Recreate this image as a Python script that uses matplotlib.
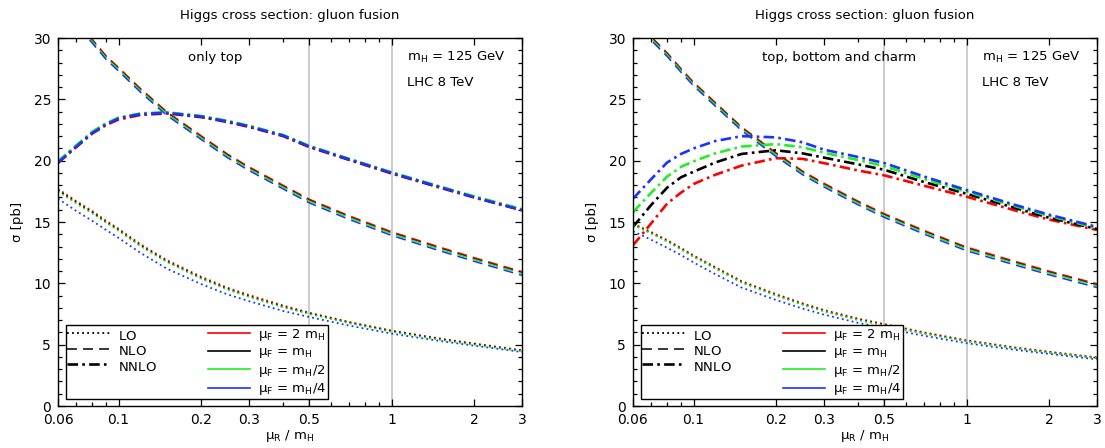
import numpy as np
import matplotlib.pyplot as plt
from matplotlib.lines import Line2D
from matplotlib.ticker import FixedLocator, FixedFormatter, NullFormatter, MultipleLocator

plt.rcParams["font.family"] = "DejaVu Sans"
plt.rcParams["mathtext.default"] = "regular"

# renormalisation scale mu_R / m_H
mu_r = [0.06, 0.07, 0.08, 0.09, 0.1, 0.12, 0.15, 0.2, 0.25, 0.3, 0.4, 0.5, 0.7, 1.0, 1.5, 2.0, 3.0]

# ---- only top quark loop (pb) ----
top_lo_2mh = [17.7, 16.7, 15.9, 15.1, 14.45, 13.2, 11.9, 10.55, 9.65, 9.05, 8.2, 7.6, 6.85, 6.15, 5.5, 5.1, 4.55]
top_lo_mh = [17.6, 16.6, 15.8, 15.0, 14.35, 13.1, 11.8, 10.45, 9.55, 8.95, 8.1, 7.55, 6.8, 6.1, 5.45, 5.05, 4.5]
top_lo_mh2 = [17.5, 16.5, 15.7, 14.95, 14.3, 13.05, 11.75, 10.4, 9.5, 8.9, 8.05, 7.5, 6.75, 6.05, 5.4, 5.0, 4.47]
top_lo_mh4 = [16.9, 15.9, 15.1, 14.35, 13.7, 12.5, 11.2, 9.95, 9.1, 8.55, 7.75, 7.25, 6.55, 5.9, 5.3, 4.92, 4.4]

top_nlo_2mh = [33.1, 31.4, 29.9, 28.55, 27.6, 25.9, 24.0, 22.05, 20.55, 19.5, 18.0, 16.85, 15.5, 14.2, 12.95, 12.1, 10.95]
top_nlo_mh = [33.0, 31.3, 29.8, 28.45, 27.5, 25.8, 23.9, 21.95, 20.45, 19.4, 17.9, 16.75, 15.4, 14.1, 12.85, 12.0, 10.85]
top_nlo_mh2 = [32.95, 31.25, 29.75, 28.4, 27.45, 25.75, 23.85, 21.9, 20.4, 19.35, 17.85, 16.7, 15.35, 14.05, 12.8, 11.95, 10.8]
top_nlo_mh4 = [32.8, 31.1, 29.6, 28.25, 27.3, 25.6, 23.7, 21.75, 20.25, 19.2, 17.7, 16.55, 15.2, 13.9, 12.65, 11.8, 10.65]

top_nnlo_2mh = [19.8, 21.1, 22.2, 22.9, 23.35, 23.72, 23.85, 23.55, 23.15, 22.75, 22.0, 21.1, 20.05, 18.95, 17.8, 17.0, 15.95]
top_nnlo_mh = [19.9, 21.2, 22.3, 23.0, 23.45, 23.8, 23.9, 23.6, 23.2, 22.8, 22.05, 21.15, 20.1, 19.0, 17.85, 17.05, 16.0]
top_nnlo_mh2 = [19.95, 21.25, 22.35, 23.05, 23.5, 23.85, 23.95, 23.65, 23.25, 22.85, 22.1, 21.2, 20.15, 19.05, 17.9, 17.1, 16.05]
top_nnlo_mh4 = [19.85, 21.15, 22.25, 22.95, 23.45, 23.8, 23.9, 23.6, 23.2, 22.8, 22.05, 21.15, 20.1, 19.0, 17.85, 17.03, 15.97]

# ---- top, bottom and charm loops (pb) ----
tbc_lo_2mh = [14.88, 14.18, 13.53, 12.88, 12.28, 11.33, 10.18, 9.13, 8.38, 7.83, 7.13, 6.68, 6.0, 5.36, 4.78, 4.43, 3.96]
tbc_lo_mh = [14.8, 14.1, 13.45, 12.8, 12.2, 11.25, 10.1, 9.05, 8.3, 7.75, 7.05, 6.6, 5.93, 5.3, 4.73, 4.38, 3.92]
tbc_lo_mh2 = [14.76, 14.06, 13.41, 12.76, 12.16, 11.21, 10.06, 9.01, 8.26, 7.71, 7.01, 6.56, 5.9, 5.27, 4.7, 4.35, 3.9]
tbc_lo_mh4 = [14.25, 13.55, 12.9, 12.3, 11.7, 10.75, 9.65, 8.65, 7.95, 7.45, 6.78, 6.35, 5.72, 5.12, 4.58, 4.25, 3.8]

tbc_nlo_2mh = [32.0, 30.1, 28.8, 27.5, 26.4, 24.75, 22.75, 20.65, 19.17, 18.16, 16.7, 15.67, 14.3, 12.95, 11.8, 11.0, 9.96]
tbc_nlo_mh = [31.9, 30.0, 28.7, 27.4, 26.3, 24.65, 22.65, 20.55, 19.07, 18.06, 16.6, 15.57, 14.2, 12.85, 11.7, 10.9, 9.86]
tbc_nlo_mh2 = [31.85, 29.95, 28.65, 27.35, 26.25, 24.6, 22.6, 20.5, 19.02, 18.01, 16.55, 15.52, 14.15, 12.8, 11.65, 10.85, 9.81]
tbc_nlo_mh4 = [31.7, 29.8, 28.5, 27.2, 26.1, 24.45, 22.45, 20.35, 18.87, 17.86, 16.4, 15.37, 14.0, 12.65, 11.5, 10.7, 9.66]

tbc_nnlo_2mh = [13.1, 14.9, 16.5, 17.4, 18.1, 18.85, 19.6, 20.2, 20.15, 19.8, 19.2, 18.8, 17.95, 17.06, 15.95, 15.2, 14.35]
tbc_nnlo_mh = [14.6, 16.4, 17.8, 18.65, 19.1, 19.85, 20.55, 20.85, 20.6, 20.25, 19.7, 19.25, 18.25, 17.3, 16.15, 15.35, 14.43]
tbc_nnlo_mh2 = [15.8, 17.4, 18.7, 19.5, 19.95, 20.6, 21.15, 21.35, 21.1, 20.65, 20.05, 19.55, 18.5, 17.47, 16.3, 15.5, 14.5]
tbc_nnlo_mh4 = [16.9, 18.5, 19.85, 20.55, 21.0, 21.6, 22.0, 21.9, 21.5, 20.9, 20.3, 19.8, 18.7, 17.6, 16.4, 15.6, 14.6]

x_ticks = [0.06, 0.1, 0.2, 0.3, 0.5, 1, 2, 3]
x_tick_labels = ["0.06", "0.1", "0.2", "0.3", "0.5", "1", "2", "3"]
x_minor = [0.07, 0.08, 0.09, 0.4, 0.6, 0.7, 0.8, 0.9]

colors = ["#ff0000", "#000000", "#22ee22", "#1a33ff"]
scale_labels = ["μ$_F$ = 2 m$_H$", "μ$_F$ = m$_H$", "μ$_F$ = m$_H$/2", "μ$_F$ = m$_H$/4"]
# empty subscript keeps the order rows as tall as the mu_F rows
order_labels = [r"LO$_{\ }$", r"NLO$_{\ }$", r"NNLO$_{\ }$", ""]

lo_style = dict(lw=1.3, dashes=(1.0, 1.8))
nlo_style = dict(lw=1.1, dashes=(6.5, 4.0))
nnlo_style = dict(lw=1.9, dashes=(4.0, 1.6, 1.0, 1.6))

fig = plt.figure(figsize=(11.05, 4.48), dpi=100)
ax1 = fig.add_axes([58 / 1105, 42 / 448, 464 / 1105, 368 / 448])
ax2 = fig.add_axes([633 / 1105, 42 / 448, 464 / 1105, 368 / 448])

panels = [
    (ax1, "only top", 0.338,
     [top_lo_2mh, top_lo_mh, top_lo_mh2, top_lo_mh4],
     [top_nlo_2mh, top_nlo_mh, top_nlo_mh2, top_nlo_mh4],
     [top_nnlo_2mh, top_nnlo_mh, top_nnlo_mh2, top_nnlo_mh4]),
    (ax2, "top, bottom and charm", 0.444,
     [tbc_lo_2mh, tbc_lo_mh, tbc_lo_mh2, tbc_lo_mh4],
     [tbc_nlo_2mh, tbc_nlo_mh, tbc_nlo_mh2, tbc_nlo_mh4],
     [tbc_nnlo_2mh, tbc_nnlo_mh, tbc_nnlo_mh2, tbc_nnlo_mh4]),
]

for ax, tag, tag_x, lo, nlo, nnlo in panels:
    ax.axvline(0.5, color="#c8c8c8", lw=1.3, zorder=0)
    ax.axvline(1.0, color="#c8c8c8", lw=1.3, zorder=0)

    for i, c in enumerate(colors):
        ax.plot(mu_r, lo[i], color=c, **lo_style)
        ax.plot(mu_r, nlo[i], color=c, **nlo_style)
        ax.plot(mu_r, nnlo[i], color=c, **nnlo_style)

    ax.set_xscale("log")
    ax.set_xlim(0.06, 3)
    ax.set_ylim(0, 30)
    ax.xaxis.set_major_locator(FixedLocator(x_ticks))
    ax.xaxis.set_major_formatter(FixedFormatter(x_tick_labels))
    ax.xaxis.set_minor_locator(FixedLocator(x_minor))
    ax.xaxis.set_minor_formatter(NullFormatter())
    ax.yaxis.set_major_locator(MultipleLocator(5))
    ax.yaxis.set_minor_locator(MultipleLocator(1))
    ax.tick_params(which="both", direction="in", top=True, right=True, labelsize=10, pad=5)
    ax.tick_params(which="major", length=5, width=0.9)
    ax.tick_params(which="minor", length=3, width=0.9)
    for s in ax.spines.values():
        s.set_linewidth(1.0)

    ax.set_title("Higgs cross section: gluon fusion", fontsize=9.5, pad=14)
    ax.set_xlabel("μ$_R$ / m$_H$", fontsize=9.5, labelpad=1)
    ax.set_ylabel("σ [pb]", fontsize=9.5, labelpad=7)

    ax.text(tag_x, 0.948, tag, transform=ax.transAxes, ha="center", va="center", fontsize=9.5)
    ax.text(0.752, 0.948, "m$_H$ = 125 GeV", transform=ax.transAxes, ha="left", va="center", fontsize=9.5)
    ax.text(0.752, 0.880, "LHC 8 TeV", transform=ax.transAxes, ha="left", va="center", fontsize=9.5)

    handles = [
        Line2D([], [], color="black", **lo_style),
        Line2D([], [], color="black", **nlo_style),
        Line2D([], [], color="black", **nnlo_style),
        Line2D([], [], color="none"),
    ] + [Line2D([], [], color=c, lw=1.2) for c in colors]
    labels = order_labels + scale_labels
    leg = ax.legend(handles, labels, ncol=2, loc="lower left", bbox_to_anchor=(0.017, 0.019),
                    borderaxespad=0, fontsize=9.5, frameon=True, fancybox=False,
                    handlelength=3.2, handletextpad=0.6, columnspacing=3.9,
                    labelspacing=0.2, borderpad=0.12)
    leg.get_frame().set_edgecolor("black")
    leg.get_frame().set_linewidth(1.0)
    leg.get_frame().set_alpha(1)

fig.savefig("out.png", dpi=100)
